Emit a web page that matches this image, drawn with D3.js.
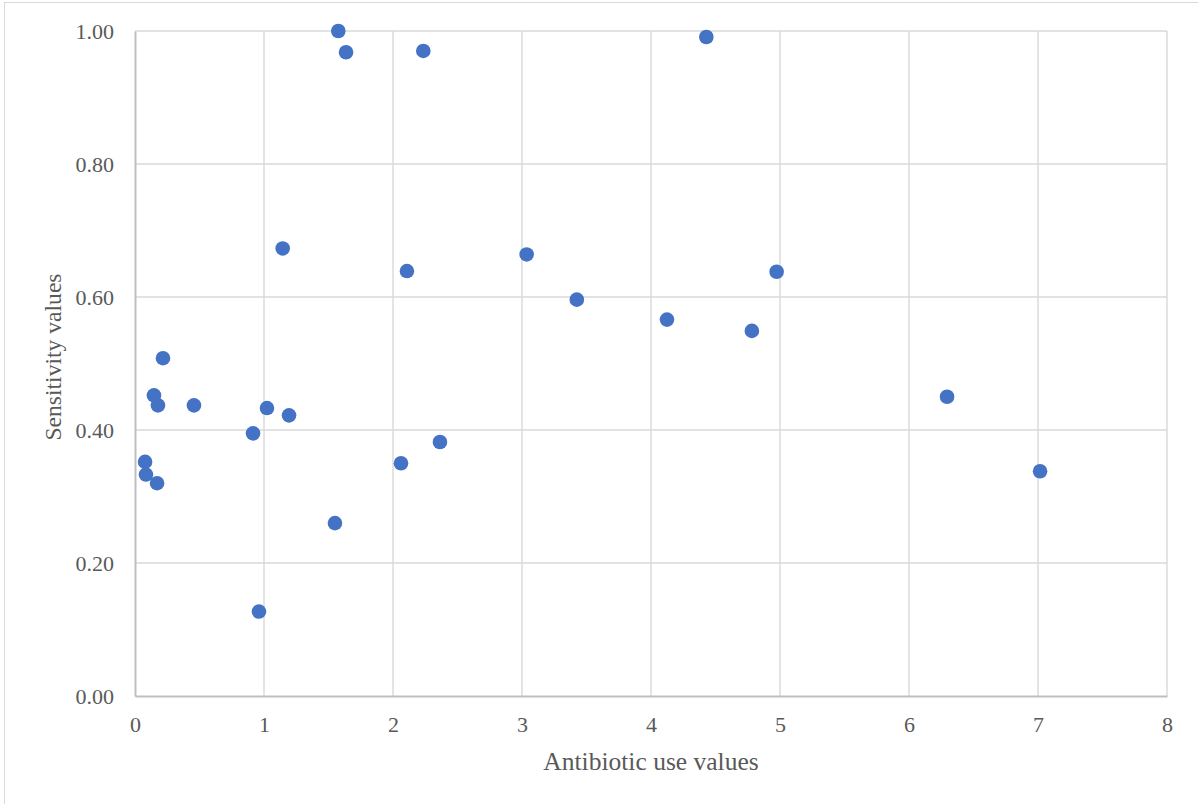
<!DOCTYPE html>
<html>
<head>
<meta charset="utf-8">
<script src="https://cdn.jsdelivr.net/npm/d3@7"></script>
<style>
  html, body { margin: 0; padding: 0; background: #fff; }
  svg { display: block; }
</style>
</head>
<body>
<svg id="chart" width="1198" height="804"></svg>
<script>
// Data
const antibioticUse = [1.576, 1.636, 2.235, 4.429, 1.145, 2.108, 3.036, 3.425, 4.124, 4.782, 4.974, 6.295, 7.016,
  0.217, 0.147, 0.178, 0.457, 0.915, 1.023, 1.194, 0.078, 0.085, 0.171, 1.550, 2.062, 2.364, 0.961];
const sensitivity = [1.000, 0.968, 0.970, 0.991, 0.673, 0.639, 0.664, 0.596, 0.566, 0.549, 0.638, 0.450, 0.338,
  0.508, 0.452, 0.437, 0.437, 0.395, 0.433, 0.422, 0.352, 0.333, 0.320, 0.260, 0.350, 0.382, 0.127];
const xTicks = [0, 1, 2, 3, 4, 5, 6, 7, 8];
const yTicks = [0, 0.2, 0.4, 0.6, 0.8, 1.0];
const xTitle = "Antibiotic use values";
const yTitle = "Sensitivity values";

const points = antibioticUse.map((v, i) => ({ x: v, y: sensitivity[i] }));

const svg = d3.select("#chart");
const plotLeft = 135, plotRight = 1167, plotTop = 31, plotBottom = 696;
const x = d3.scaleLinear().domain([0, 8]).range([plotLeft, plotRight]);
const y = d3.scaleLinear().domain([0, 1]).range([plotBottom, plotTop]);

const font = "'Liberation Serif', 'Times New Roman', serif";
const textColor = "#595959";

// chart border
svg.append("rect").attr("x", 4.5).attr("y", 2.5).attr("width", 1300).attr("height", 900)
  .attr("fill", "none").attr("stroke", "#d9d9d9").attr("stroke-width", 1);

// gridlines
svg.append("g").selectAll("line").data(yTicks.filter(d => d > 0)).join("line")
  .attr("x1", plotLeft).attr("x2", plotRight).attr("y1", d => y(d)).attr("y2", d => y(d))
  .attr("stroke", "#d9d9d9").attr("stroke-width", 1.4);
svg.append("g").selectAll("line").data(xTicks.filter(d => d > 0)).join("line")
  .attr("x1", d => x(d)).attr("x2", d => x(d)).attr("y1", plotTop).attr("y2", plotBottom)
  .attr("stroke", "#d9d9d9").attr("stroke-width", 1.4);

// axes
const xAxis = svg.append("g").attr("transform", `translate(0,${plotBottom})`)
  .call(d3.axisBottom(x).tickValues(xTicks).tickSize(0).tickFormat(d3.format("d")));
xAxis.select(".domain").attr("stroke", "#bfbfbf").attr("stroke-width", 2);
xAxis.selectAll("text").attr("y", 36).attr("dy", 0)
  .attr("font-family", font).attr("font-size", 22).attr("fill", textColor);

const yAxis = svg.append("g").attr("transform", `translate(${plotLeft},0)`)
  .call(d3.axisLeft(y).tickValues(yTicks).tickSize(0).tickFormat(d3.format(".2f")));
yAxis.select(".domain").attr("stroke", "#bfbfbf").attr("stroke-width", 2);
yAxis.selectAll("text").attr("x", -21).attr("dy", 7.3)
  .attr("font-family", font).attr("font-size", 22).attr("fill", textColor);

// points
svg.append("g").selectAll("circle").data(points).join("circle")
  .attr("cx", d => x(d.x)).attr("cy", d => y(d.y)).attr("r", 7.3)
  .attr("fill", "#4472C4");

// titles
svg.append("text").attr("x", (plotLeft + plotRight) / 2).attr("y", 770)
  .attr("text-anchor", "middle").attr("font-family", font).attr("font-size", 25.5)
  .attr("fill", textColor).text(xTitle);
svg.append("text").attr("transform", "translate(60.5,357) rotate(-90)")
  .attr("text-anchor", "middle").attr("font-family", font).attr("font-size", 23.6)
  .attr("fill", textColor).text(yTitle);
</script>
</body>
</html>
